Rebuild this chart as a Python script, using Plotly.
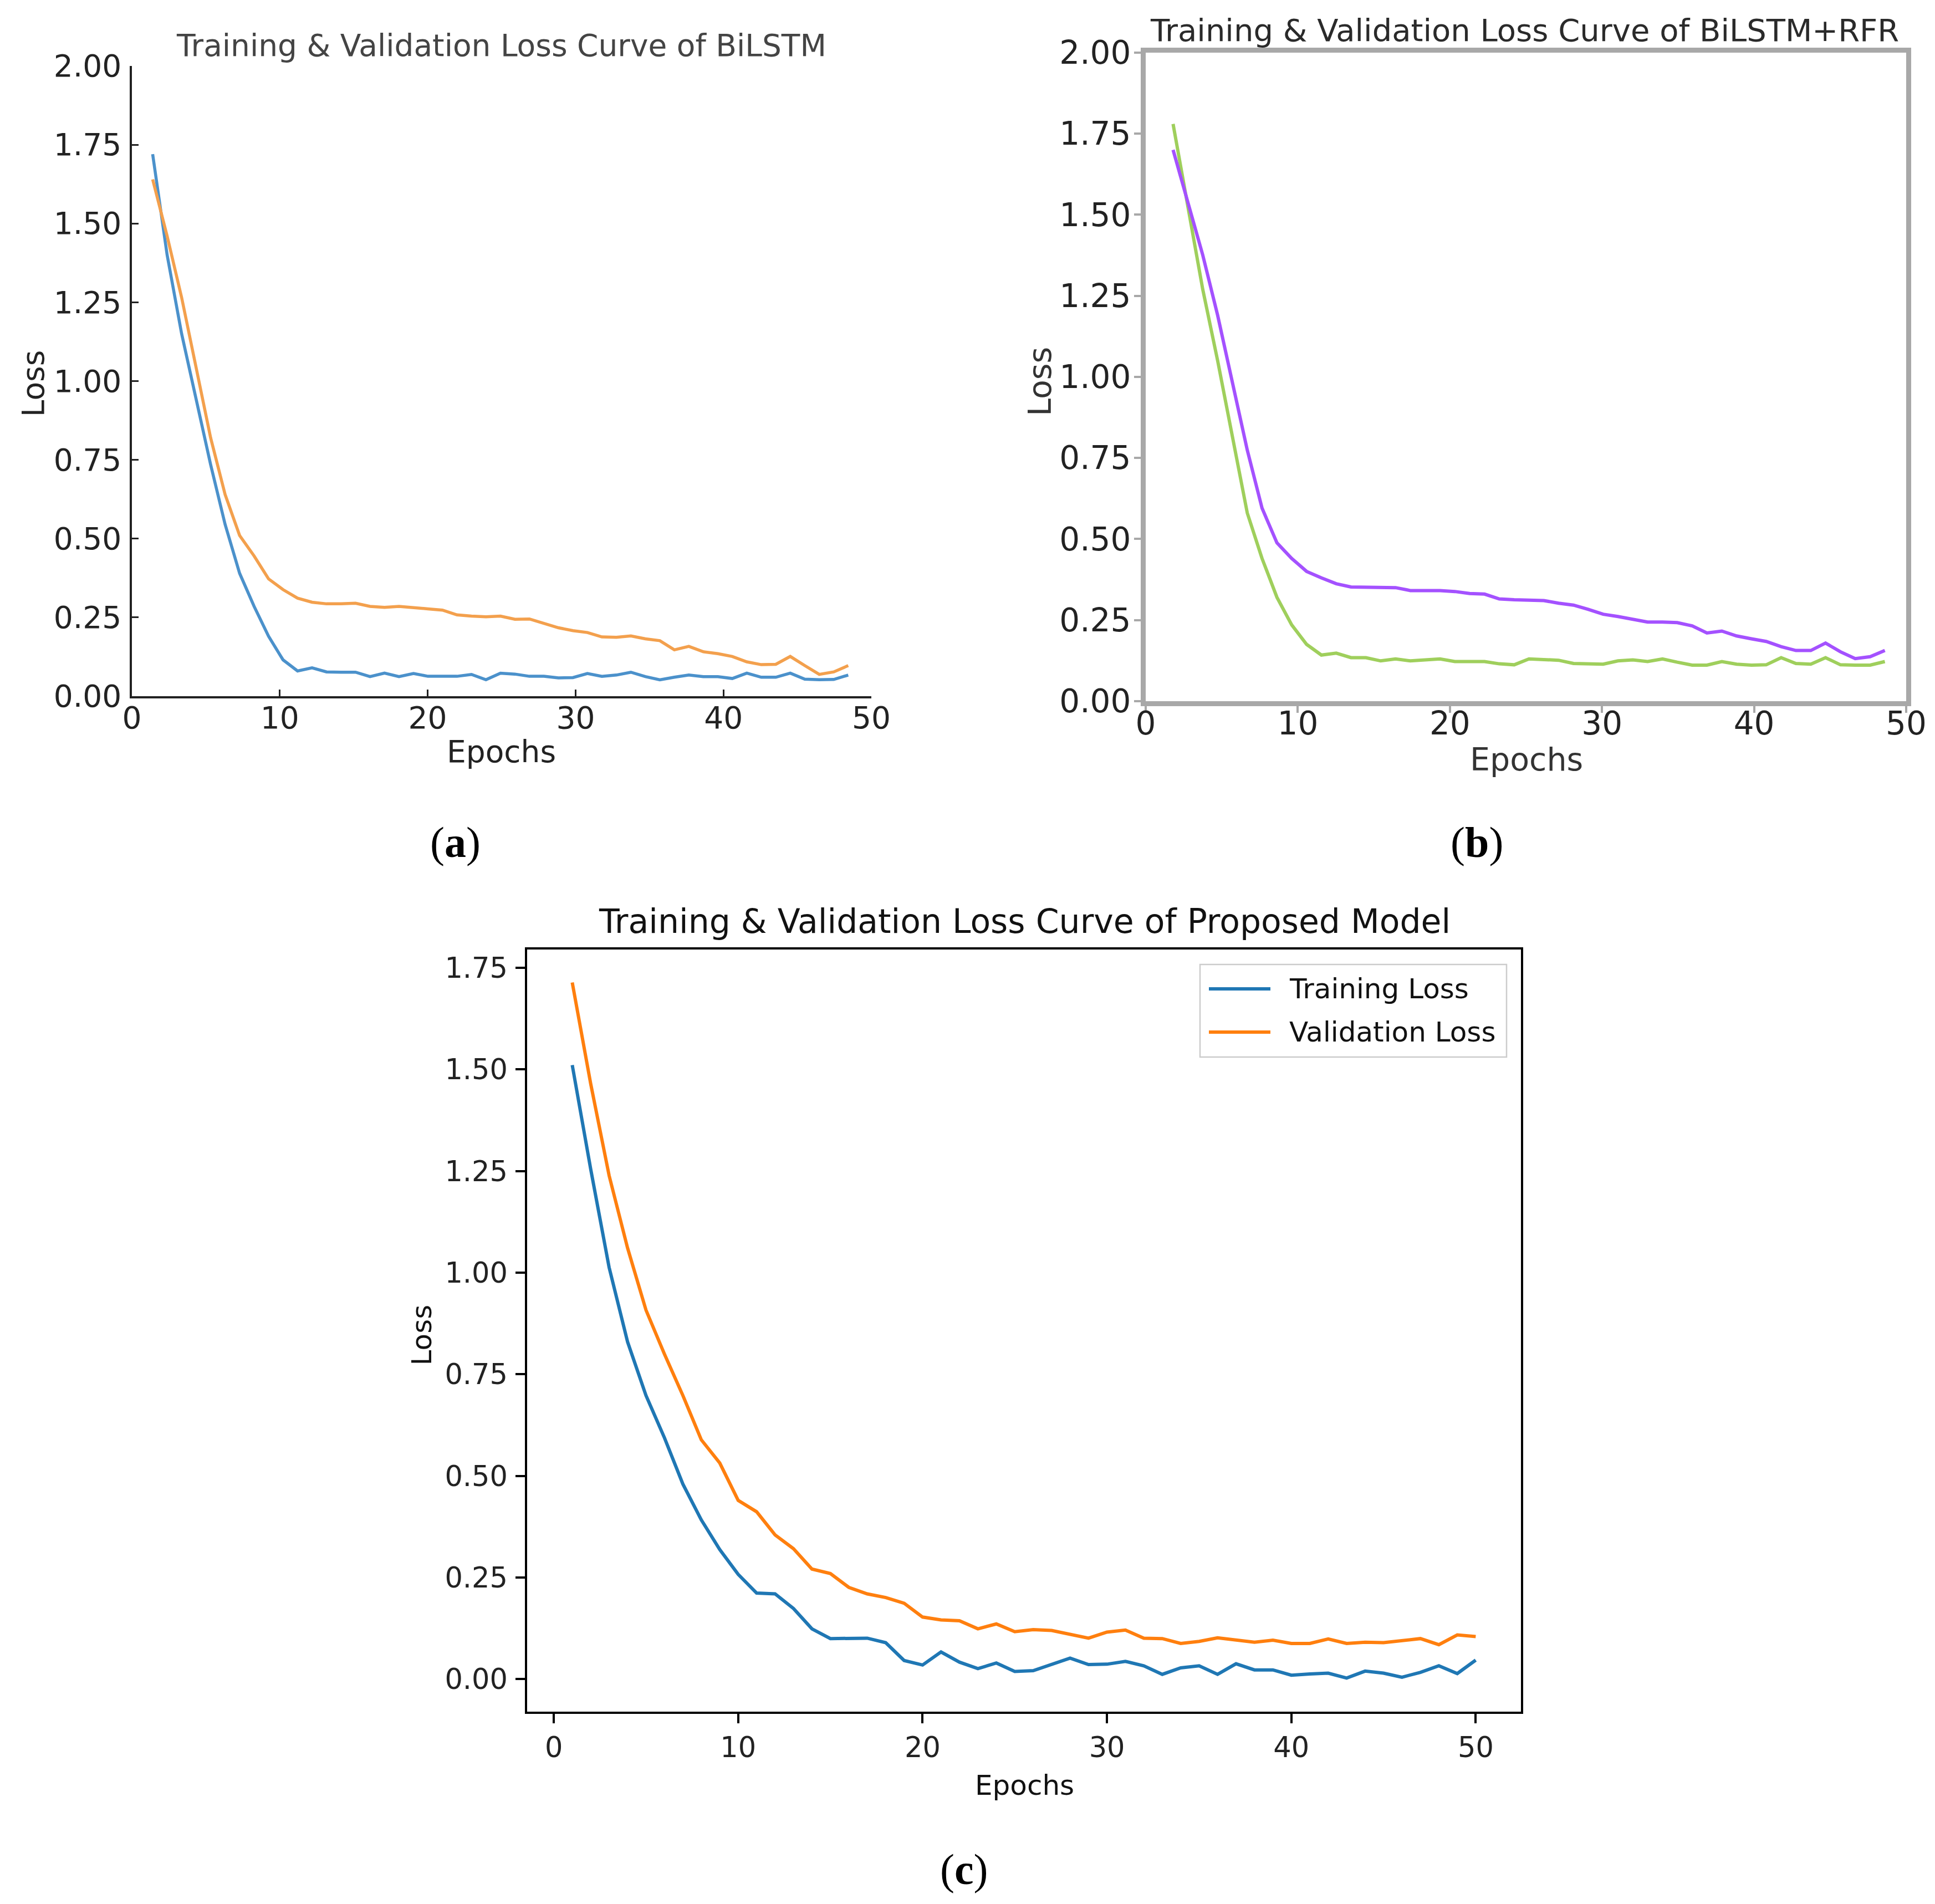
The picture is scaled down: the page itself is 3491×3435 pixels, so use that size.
import plotly.graph_objects as go

# ---- data ----
epochs_a = [1.40, 2.38, 3.36, 4.34, 5.32, 6.30, 7.28, 8.26, 9.24, 10.22,
            11.20, 12.18, 13.16, 14.14, 15.12, 16.10, 17.08, 18.06, 19.04, 20.02,
            21.00, 21.98, 22.96, 23.94, 24.92, 25.90, 26.88, 27.86, 28.84, 29.82,
            30.80, 31.78, 32.76, 33.74, 34.72, 35.70, 36.68, 37.66, 38.64, 39.62,
            40.60, 41.58, 42.56, 43.54, 44.52, 45.50, 46.48, 47.46, 48.44]
train_a = [1.72, 1.40, 1.15, 0.94, 0.735, 0.545, 0.39, 0.285, 0.19, 0.115,
           0.08, 0.09, 0.077, 0.076, 0.076, 0.062, 0.073, 0.062, 0.072, 0.063,
           0.062, 0.063, 0.069, 0.052, 0.073, 0.07, 0.063, 0.063, 0.058, 0.059,
           0.072, 0.063, 0.067, 0.076, 0.062, 0.052, 0.06, 0.067, 0.062, 0.062,
           0.056, 0.073, 0.06, 0.06, 0.073, 0.054, 0.052, 0.053, 0.067]
val_a = [1.64, 1.46, 1.265, 1.04, 0.82, 0.64, 0.51, 0.445, 0.372, 0.338,
         0.311, 0.298, 0.293, 0.293, 0.295, 0.285, 0.282, 0.285, 0.282, 0.277,
         0.273, 0.258, 0.254, 0.252, 0.254, 0.244, 0.245, 0.232, 0.217, 0.208,
         0.202, 0.188, 0.187, 0.191, 0.182, 0.176, 0.147, 0.158, 0.141, 0.135,
         0.126, 0.109, 0.1, 0.101, 0.126, 0.097, 0.069, 0.077, 0.097]

epochs_b = [1.80, 2.78, 3.75, 4.73, 5.70, 6.68, 7.65, 8.63, 9.60, 10.58,
            11.55, 12.53, 13.50, 14.48, 15.45, 16.43, 17.40, 18.38, 19.35, 20.33,
            21.30, 22.28, 23.25, 24.23, 25.20, 26.18, 27.15, 28.13, 29.10, 30.08,
            31.05, 32.03, 33.00, 33.98, 34.95, 35.93, 36.90, 37.88, 38.85, 39.83,
            40.80, 41.78, 42.75, 43.73, 44.70, 45.68, 46.65, 47.63, 48.60]
train_b = [1.78, 1.53, 1.27, 1.05, 0.82, 0.58, 0.44, 0.32, 0.235, 0.175,
           0.142, 0.148, 0.134, 0.134, 0.124, 0.13, 0.124, 0.126, 0.13, 0.122,
           0.122, 0.122, 0.115, 0.112, 0.13, 0.128, 0.126, 0.116, 0.114, 0.114,
           0.124, 0.127, 0.122, 0.13, 0.12, 0.111, 0.111, 0.122, 0.114, 0.111,
           0.112, 0.134, 0.116, 0.114, 0.134, 0.112, 0.111, 0.111, 0.122]
val_b = [1.70, 1.54, 1.376, 1.19, 0.983, 0.774, 0.595, 0.488, 0.44, 0.40,
         0.38, 0.362, 0.352, 0.352, 0.352, 0.35, 0.341, 0.341, 0.341, 0.338,
         0.332, 0.33, 0.315, 0.3125, 0.3125, 0.31, 0.302, 0.296, 0.283, 0.268,
         0.261, 0.252, 0.244, 0.244, 0.242, 0.232, 0.21, 0.216, 0.201, 0.192,
         0.184, 0.168, 0.156, 0.156, 0.179, 0.152, 0.131, 0.137, 0.156]

epochs_c = list(range(1, 51))
train_c = [1.511, 1.255, 1.013, 0.83, 0.698, 0.594, 0.48, 0.392, 0.319, 0.258,
           0.212, 0.21, 0.174, 0.124, 0.10, 0.10, 0.101, 0.09, 0.046, 0.035,
           0.067, 0.042, 0.026, 0.04, 0.019, 0.021, 0.037, 0.052, 0.036, 0.037,
           0.044, 0.033, 0.012, 0.028, 0.033, 0.012, 0.038, 0.023, 0.023, 0.01,
           0.013, 0.015, 0.003, 0.02, 0.015, 0.005, 0.017, 0.033, 0.014, 0.047]
val_c = [1.714, 1.465, 1.239, 1.061, 0.908, 0.80, 0.698, 0.589, 0.532, 0.44,
         0.412, 0.355, 0.321, 0.271, 0.26, 0.226, 0.21, 0.201, 0.187, 0.153,
         0.146, 0.144, 0.124, 0.136, 0.117, 0.122, 0.12, 0.111, 0.101, 0.116,
         0.121, 0.101, 0.1, 0.088, 0.093, 0.102, 0.097, 0.091, 0.096, 0.088,
         0.088, 0.099, 0.088, 0.091, 0.09, 0.096, 0.1, 0.085, 0.109, 0.105]

y_ticks_ab = [0, 0.25, 0.5, 0.75, 1.0, 1.25, 1.5, 1.75, 2.0]
y_ticks_c = [0, 0.25, 0.5, 0.75, 1.0, 1.25, 1.5, 1.75]
x_ticks = [0, 10, 20, 30, 40, 50]

W, H = 3491, 3435
FONT = "DejaVu Sans"
BLUE_C, ORANGE_C = "#1f77b4", "#ff7f0e"

fig = go.Figure()

# (a) BiLSTM
fig.add_trace(go.Scatter(x=epochs_a, y=train_a, mode="lines", line=dict(color="#4b91cb", width=5.5),
                         xaxis="x", yaxis="y", showlegend=False))
fig.add_trace(go.Scatter(x=epochs_a, y=val_a, mode="lines", line=dict(color="#f3a04d", width=5.5),
                         xaxis="x", yaxis="y", showlegend=False))
# (b) BiLSTM+RFR
fig.add_trace(go.Scatter(x=epochs_b, y=train_b, mode="lines", line=dict(color="#9fcf5c", width=6),
                         xaxis="x2", yaxis="y2", showlegend=False))
fig.add_trace(go.Scatter(x=epochs_b, y=val_b, mode="lines", line=dict(color="#a451ff", width=6),
                         xaxis="x2", yaxis="y2", showlegend=False))
# (c) proposed model
fig.add_trace(go.Scatter(x=epochs_c, y=train_c, mode="lines", name="Training Loss",
                         line=dict(color=BLUE_C, width=6), xaxis="x3", yaxis="y3", showlegend=False))
fig.add_trace(go.Scatter(x=epochs_c, y=val_c, mode="lines", name="Validation Loss",
                         line=dict(color=ORANGE_C, width=6), xaxis="x3", yaxis="y3", showlegend=False))


def axis(domain, rng, tickvals, fmt, size, color, lw, mirror, anchor, ticks, ticklen, tw, standoff):
    return dict(domain=domain, range=rng, tickvals=tickvals, tickformat=fmt,
                showgrid=False, zeroline=False, showline=True, linecolor=color,
                linewidth=lw, mirror=mirror, ticks=ticks, ticklen=ticklen,
                tickwidth=tw, tickcolor=color, anchor=anchor, automargin=False,
                ticklabelstandoff=standoff,
                tickfont=dict(family=FONT, size=size, color="#222222"))


fig.update_layout(
    width=W, height=H, margin=dict(l=0, r=0, t=0, b=0),
    paper_bgcolor="white", plot_bgcolor="white", showlegend=False,
    xaxis=axis([0.0659, 0.4480], [0, 50], x_ticks, "d", 55, "#222222", 3.5, False, "y",
               "inside", 12, 3, -12),
    yaxis=axis([0.6367, 0.9677], [0, 2], y_ticks_ab, ".2f", 55, "#222222", 3.5, False, "x",
               "inside", 12, 3, 4),
    xaxis2=axis([0.5898, 0.9828], [0, 50], x_ticks, "d", 58, "#a8a8a8", 9, True, "y2",
                "outside", 12, 4, -30),
    yaxis2=axis([0.6341, 0.9747], [0, 2], y_ticks_ab, ".2f", 58, "#a8a8a8", 9, True, "x2",
                "outside", 12, 4, -6),
    xaxis3=axis([0.2701, 0.7837], [-1.45, 52.45], x_ticks, "d", 51, "#000000", 3.5, True, "y3",
                "outside", 17, 3.5, 0),
    yaxis3=axis([0.1033, 0.5036], [-0.08, 1.795], y_ticks_c, ".2f", 51, "#000000", 3.5, True, "x3",
                "outside", 17, 3.5, 4),
)

notes = [
    # titles
    (0.2567, 0.9786, "Training &amp; Validation Loss Curve of BiLSTM", 55, "#444444", 0),
    (0.7857, 0.9866, "Training &amp; Validation Loss Curve of BiLSTM+RFR", 56, "#2a2a2a", 0),
    (0.5273, 0.5186, "Training &amp; Validation Loss Curve of Proposed Model", 60, "#111111", 0),
    # axis labels
    (0.2567, 0.6075, "Epochs", 55, "#222222", 0),
    (0.015, 0.8009, "Loss", 55, "#222222", -90),
    (0.7865, 0.6035, "Epochs", 57, "#333333", 0),
    (0.535, 0.802, "Loss", 57, "#333333", -90),
    (0.5273, 0.0645, "Epochs", 50, "#111111", 0),
    (0.2158, 0.3013, "Loss", 50, "#111111", -90),
]
for x, y, txt, size, color, ang in notes:
    fig.add_annotation(x=x, y=y, xref="paper", yref="paper", text=txt, showarrow=False,
                       xanchor="center", yanchor="middle", textangle=ang,
                       font=dict(family=FONT, size=size, color=color))

# legend of panel (c), drawn by hand to get matplotlib-like long handles
fig.add_shape(type="rect", xref="paper", yref="paper",
              x0=2157 / W, x1=2710 / W, y0=1 - 1899 / H, y1=1 - 1732 / H,
              line=dict(color="#cccccc", width=2.5), fillcolor="white")
for row_y, name, color in [(1776, "Training Loss", BLUE_C), (1854, "Validation Loss", ORANGE_C)]:
    fig.add_shape(type="line", xref="paper", yref="paper",
                  x0=2173 / W, x1=2284 / W, y0=1 - row_y / H, y1=1 - row_y / H,
                  line=dict(color=color, width=6))
    fig.add_annotation(x=2316 / W, y=1 - row_y / H, xref="paper", yref="paper", text=name,
                       showarrow=False, xanchor="left", yanchor="middle",
                       font=dict(family=FONT, size=50, color="#111111"))

# panel letters
for x, y, letter in [(0.2330, 0.5600, "a"), (0.761, 0.5600, "b"), (0.4961, 0.0205, "c")]:
    fig.add_annotation(x=x, y=y, xref="paper", yref="paper", text="(<b>%s</b>)" % letter,
                       showarrow=False, xanchor="center", yanchor="middle",
                       font=dict(family="Liberation Serif", size=78, color="#000000"))

fig.write_html("out.html")
